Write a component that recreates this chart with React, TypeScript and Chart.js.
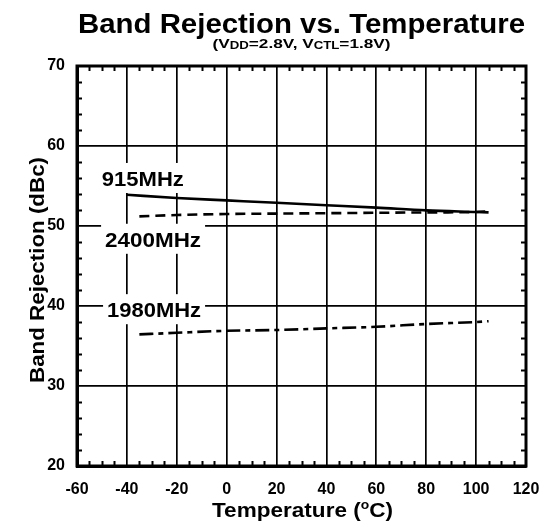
import React, { useEffect, useRef } from "react";
import { Chart, registerables } from "chart.js";

Chart.register(...registerables);

const FONT = '"Liberation Sans", Arial, Helvetica, sans-serif';

// Series data (temperature in °C, band rejection in dBc)
const temps915 = [-40, -20, 0, 20, 40, 60, 80, 100, 105];
const rej915 = [53.9, 53.5, 53.2, 52.9, 52.6, 52.3, 51.95, 51.75, 51.7];

const temps2400 = [-35, -20, 0, 20, 40, 60, 80, 100, 105];
const rej2400 = [51.2, 51.37, 51.5, 51.55, 51.6, 51.65, 51.7, 51.75, 51.85];

const temps1980 = [-35, -20, 0, 20, 40, 60, 80, 100, 105];
const rej1980 = [36.45, 36.65, 36.9, 37.0, 37.2, 37.4, 37.75, 38.0, 38.1];

// Axis ticks
const xTickValues = [-60, -40, -20, 0, 20, 40, 60, 80, 100, 120];
const yTickValues = [20, 30, 40, 50, 60, 70];
const xMinorStep = 5;
const yMinorStep = 2;

// Text
const titleText = "Band Rejection vs. Temperature";
const xTitleMain = "Temperature (";
const xTitleSup = "o";
const xTitleEnd = "C)";
const yTitleText = "Band Rejection (dBc)";

// Series labels anchored in data coordinates
const labelNames = ["915MHz", "2400MHz", "1980MHz"];
const labelX = [-33.6, -29.5, -29.1];
const labelY = [55.0, 47.4, 38.6];

type Seg = { t: string; size: number; dy?: number };

function drawRich(
  ctx: CanvasRenderingContext2D,
  segs: Seg[],
  x: number,
  y: number,
  targetW: number | null,
  rotate = false
) {
  ctx.save();
  let natural = 0;
  const widths: number[] = [];
  for (const s of segs) {
    ctx.font = `bold ${s.size}px ${FONT}`;
    const w = ctx.measureText(s.t).width;
    widths.push(w);
    natural += w;
  }
  const sx = targetW ? targetW / natural : 1;
  ctx.translate(x, y);
  if (rotate) ctx.rotate(-Math.PI / 2);
  ctx.scale(sx, 1);
  ctx.fillStyle = "#000";
  ctx.textAlign = "left";
  ctx.textBaseline = "alphabetic";
  let cx = -natural / 2;
  segs.forEach((s, i) => {
    ctx.font = `bold ${s.size}px ${FONT}`;
    ctx.fillText(s.t, cx, s.dy || 0);
    cx += widths[i];
  });
  ctx.restore();
}

const decorPlugin = {
  id: "decor",
  beforeDatasetsDraw(chart: any) {
    const ctx: CanvasRenderingContext2D = chart.ctx;
    const xs = chart.scales.x;
    const ys = chart.scales.y;
    const sizes = [21, 21, 21];
    const widths = [82, 96, 94];
    labelNames.forEach((name, i) => {
      const cx = xs.getPixelForValue(labelX[i]);
      const by = ys.getPixelForValue(labelY[i]);
      const w = widths[i];
      const capTop = by - sizes[i] * 0.716;
      ctx.save();
      ctx.fillStyle = "#fff";
      ctx.fillRect(cx - w / 2 - 4, capTop - 8, w + 8, by - capTop + 15);
      ctx.restore();
      drawRich(ctx, [{ t: name, size: sizes[i] }], cx, by, w);
    });
  },
  afterDraw(chart: any) {
    const ctx: CanvasRenderingContext2D = chart.ctx;
    const a = chart.chartArea;
    const xs = chart.scales.x;
    const ys = chart.scales.y;
    ctx.save();
    ctx.strokeStyle = "#000";
    // minor ticks
    ctx.lineWidth = 2;
    const tl = 5;
    for (let v = xs.min; v <= xs.max; v += xMinorStep) {
      if (xTickValues.includes(v)) continue;
      const px = Math.round(xs.getPixelForValue(v)) + 0.5;
      ctx.beginPath();
      ctx.moveTo(px, a.bottom);
      ctx.lineTo(px, a.bottom - tl);
      ctx.moveTo(px, a.top);
      ctx.lineTo(px, a.top + tl);
      ctx.stroke();
    }
    for (let v = ys.min; v <= ys.max; v += yMinorStep) {
      if (yTickValues.includes(v)) continue;
      const py = Math.round(ys.getPixelForValue(v)) + 0.5;
      ctx.beginPath();
      ctx.moveTo(a.left, py);
      ctx.lineTo(a.left + tl, py);
      ctx.moveTo(a.right, py);
      ctx.lineTo(a.right - tl, py);
      ctx.stroke();
    }
    // frame
    ctx.lineWidth = 3;
    ctx.strokeRect(a.left, a.top, a.right - a.left, a.bottom - a.top);
    ctx.restore();

    const midX = (a.left + a.right) / 2;
    // title
    drawRich(ctx, [{ t: titleText, size: 27 }], midX, 33, 447);
    // subtitle with small subscript caps
    drawRich(
      ctx,
      [
        { t: "(V", size: 13 },
        { t: "DD", size: 10, dy: 1 },
        { t: "=2.8V, V", size: 13 },
        { t: "CTL", size: 10, dy: 1 },
        { t: "=1.8V)", size: 13 },
      ],
      midX,
      48,
      178
    );
    // x axis title
    drawRich(
      ctx,
      [
        { t: xTitleMain, size: 19.5 },
        { t: xTitleSup, size: 12, dy: -8 },
        { t: xTitleEnd, size: 19.5 },
      ],
      midX + 1,
      517,
      181
    );
    // y axis title
    drawRich(ctx, [{ t: yTitleText, size: 21 }], 43.5, (a.top + a.bottom) / 2 + 4, 226, true);
  },
};

export default function App() {
  const ref = useRef<HTMLCanvasElement | null>(null);
  useEffect(() => {
    if (!ref.current) return;
    const mk = (xs: number[], ys: number[]) => xs.map((x, i) => ({ x, y: ys[i] }));
    const chart = new Chart(ref.current, {
      type: "line",
      data: {
        datasets: [
          {
            label: "915MHz",
            data: mk(temps915, rej915),
            borderColor: "#000",
            borderWidth: 2.6,
            pointRadius: 0,
            tension: 0.3,
            cubicInterpolationMode: "monotone",
          },
          {
            label: "2400MHz",
            data: mk(temps2400, rej2400),
            borderColor: "#000",
            borderWidth: 2.6,
            borderDash: [10, 6],
            pointRadius: 0,
            tension: 0.3,
            cubicInterpolationMode: "monotone",
          },
          {
            label: "1980MHz",
            data: mk(temps1980, rej1980),
            borderColor: "#000",
            borderWidth: 2.6,
            borderDash: [14, 5, 5, 5],
            pointRadius: 0,
            tension: 0.3,
            cubicInterpolationMode: "monotone",
          },
        ],
      },
      options: {
        animation: false,
        responsive: false,
        devicePixelRatio: 1,
        layout: { padding: { top: 66, right: 16, left: 0, bottom: 0 } },
        plugins: {
          legend: { display: false },
          tooltip: { enabled: false },
          title: { display: false },
        },
        scales: {
          x: {
            type: "linear",
            min: -60,
            max: 120,
            afterBuildTicks: (s: any) => {
              s.ticks = xTickValues.map((v) => ({ value: v }));
            },
            afterFit: (s: any) => {
              s.height = 58;
              s.paddingLeft = 0;
              s.paddingRight = 0;
            },
            ticks: {
              color: "#000",
              font: { family: FONT, size: 16, weight: "bold" },
              padding: 14,
              maxRotation: 0,
              autoSkip: false,
            },
            grid: { color: "#000", lineWidth: 1.7, drawTicks: false },
            border: { display: true, color: "#000", width: 3 },
          },
          y: {
            type: "linear",
            min: 20,
            max: 70,
            afterBuildTicks: (s: any) => {
              s.ticks = yTickValues.map((v) => ({ value: v }));
            },
            afterFit: (s: any) => {
              s.width = 77;
              s.paddingTop = 0;
              s.paddingBottom = 0;
            },
            ticks: {
              color: "#000",
              font: { family: FONT, size: 16, weight: "bold" },
              padding: 12,
              autoSkip: false,
            },
            grid: { color: "#000", lineWidth: 1.7, drawTicks: false },
            border: { display: true, color: "#000", width: 3 },
          },
        },
      } as any,
      plugins: [decorPlugin],
    });
    return () => chart.destroy();
  }, []);
  return (
    <div style={{ position: "fixed", left: 0, top: 0, width: 542, height: 524, background: "#fff" }}>
      <canvas ref={ref} width={542} height={524} style={{ display: "block" }} />
    </div>
  );
}
